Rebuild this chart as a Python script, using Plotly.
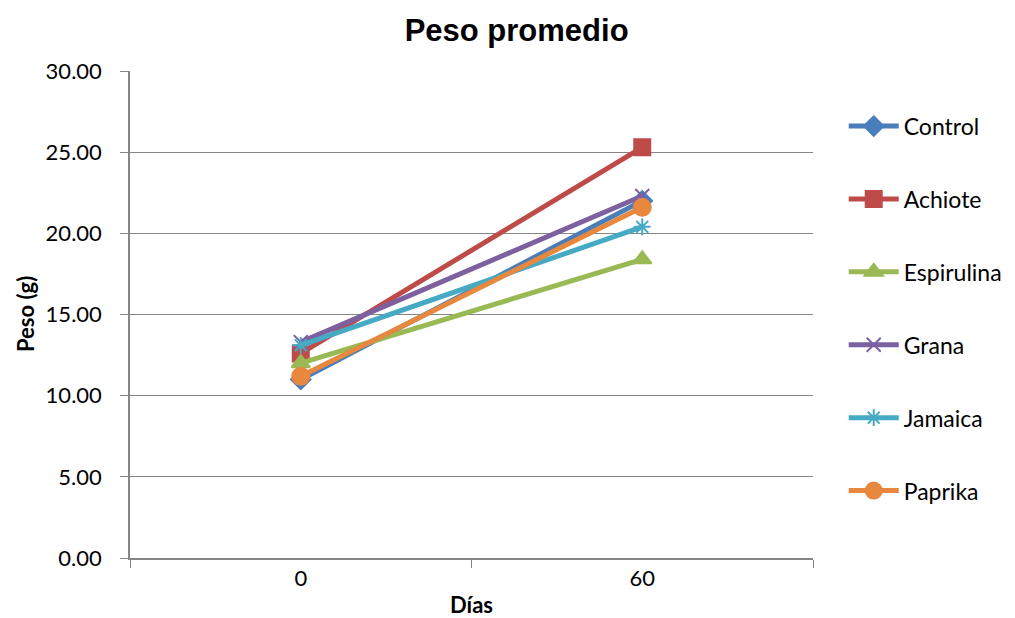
import plotly.graph_objects as go

dias = ["0", "60"]
control = [11.0, 22.0]
achiote = [12.6, 25.3]
espirulina = [12.0, 18.4]
grana = [13.3, 22.3]
jamaica = [13.1, 20.4]
paprika = [11.2, 21.6]

series = [
    ("Control", control, "#4A7EBB", "diamond", 15),
    ("Achiote", achiote, "#BE4B48", "square", 16),
    ("Espirulina", espirulina, "#98B954", "triangle-up", 16),
    ("Grana", grana, "#7D60A0", "x-thin-open", 14),
    ("Jamaica", jamaica, "#46AAC5", "asterisk-open", 14),
    ("Paprika", paprika, "#E8873E", "circle", 17),
]

TEXT_FONT = "Lato, Open Sans, sans-serif"

fig = go.Figure()
for i, (name, vals, color, symbol, size) in enumerate(series):
    fig.add_trace(go.Scatter(
        x=dias, y=vals, name=name, mode="lines+markers",
        legendgroup=f"g{i}",
        line=dict(color=color, width=5),
        marker=dict(symbol=symbol, size=size, color=color,
                    line=dict(color=color, width=2)),
    ))

fig.update_layout(
    width=1015, height=618,
    margin=dict(l=130, r=202, t=71, b=60, autoexpand=False),
    paper_bgcolor="white", plot_bgcolor="white",
    title=dict(text="<b>Peso promedio</b>", x=0.509, xanchor="center",
               xref="container", y=0.952, yanchor="middle",
               font=dict(family="Liberation Sans, Arial", size=31, color="black")),
    font=dict(family=TEXT_FONT, size=22, color="black"),
    legend=dict(x=1.045, xanchor="left", y=0.931, yanchor="top",
                traceorder="grouped", tracegroupgap=40,
                font=dict(family=TEXT_FONT, size=23),
                itemwidth=50),
    showlegend=True,
    annotations=[
        dict(text="<b>Días</b>", xref="paper", yref="paper", x=0.5, y=-0.096,
             xanchor="center", yanchor="middle", showarrow=False,
             font=dict(family=TEXT_FONT, size=22, color="black")),
        dict(text="<b>Peso (g)</b>", xref="paper", yref="paper", x=-0.153, y=0.5,
             xanchor="center", yanchor="middle", showarrow=False, textangle=-90,
             font=dict(family=TEXT_FONT, size=22, color="black")),
    ],
)

fig.update_xaxes(
    type="category", range=[-0.5, 1.5],
    tickson="boundaries", ticks="outside", ticklen=8, tickcolor="#868686",
    showline=True, linecolor="#868686", linewidth=1.5,
    showgrid=False,
    tickfont=dict(size=22),
)
fig.update_yaxes(
    range=[0, 30], tickvals=[0, 5, 10, 15, 20, 25, 30], tickformat=".2f",
    ticks="outside", ticklen=8, tickcolor="#868686",
    showline=True, linecolor="#868686", linewidth=1.5,
    showgrid=True, gridcolor="#868686", gridwidth=1.2,
    zeroline=False, ticklabelstandoff=14,
    tickfont=dict(size=22),
)

fig.write_html("out.html")
